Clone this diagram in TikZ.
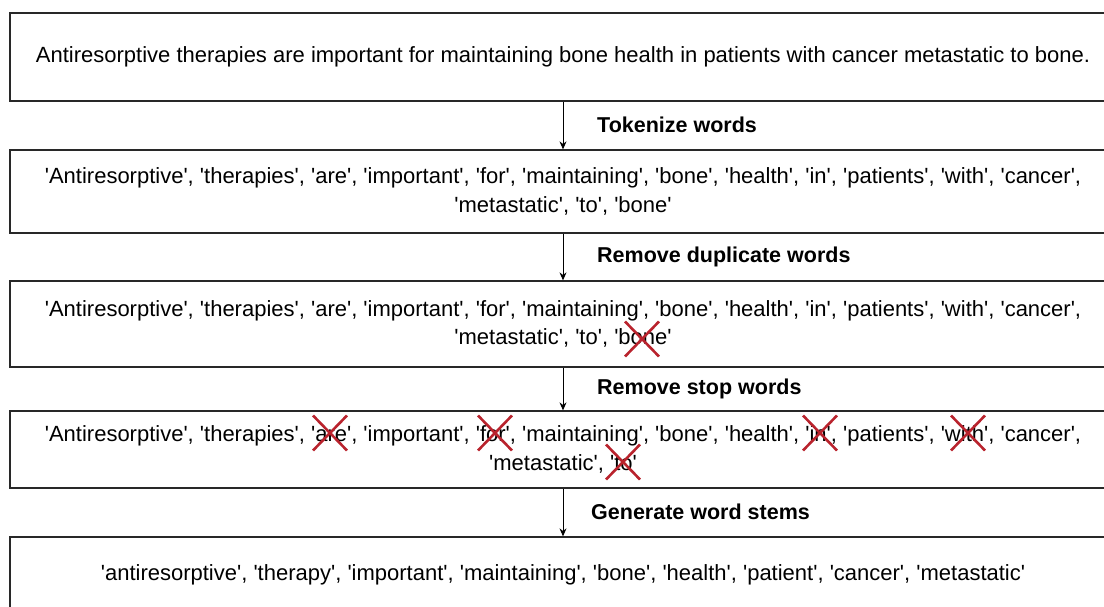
\documentclass[tikz,border=0pt]{standalone}
\usepackage{fontspec}
\setmainfont{Liberation Sans}
\usetikzlibrary{arrows.meta}
\definecolor{crossred}{RGB}{185,35,45}
\definecolor{boxline}{RGB}{40,40,40}
\newcommand\sq{\textquotesingle}
\newcommand\w[1]{\sq#1\sq}
\tikzset{
  stepbox/.style={draw=boxline, line width=1.3pt, minimum width=1106pt, inner sep=0pt, align=center, font=\fontsize{22}{28.5}\selectfont},
  lbl/.style={anchor=west, inner sep=0pt, font=\fontsize{21.5}{26}\selectfont\bfseries},
  arr/.style={draw=black, line width=0.9pt, -{Stealth[length=8pt,width=7pt]}},
  redx/.pic={\draw[crossred, line width=2.6pt] (-17,-17.5) -- (17,17.5) (-17,17.5) -- (17,-17.5);}
}
\begin{document}
\begin{tikzpicture}[x=1pt,y=-1pt]
\useasboundingbox (0,0) rectangle (1104,607);
\clip (0,0) rectangle (1104,607);
\fill[white] (0,0) rectangle (1104,607);
\node[stepbox, minimum height=88pt] (b1) at (563,57) {Antiresorptive therapies are important for maintaining bone health in patients with cancer metastatic to bone.};
\node[stepbox, minimum height=83pt] (b2) at (563,191.5) {\w{Antiresorptive}, \w{therapies}, \w{are}, \w{important}, \w{for}, \w{maintaining}, \w{bone}, \w{health}, \w{in}, \w{patients}, \w{with}, \w{cancer},\\\w{metastatic}, \w{to}, \w{bone}};
\node[stepbox, minimum height=86pt] (b3) at (563,324) {\w{Antiresorptive}, \w{therapies}, \w{are}, \w{important}, \w{for}, \w{maintaining}, \w{bone}, \w{health}, \w{in}, \w{patients}, \w{with}, \w{cancer},\\\w{metastatic}, \w{to}, \w{bone}};
\node[stepbox, minimum height=77pt] (b4) at (563,449.5) {\w{Antiresorptive}, \w{therapies}, \w{are}, \w{important}, \w{for}, \w{maintaining}, \w{bone}, \w{health}, \w{in}, \w{patients}, \w{with}, \w{cancer},\\\w{metastatic}, \w{to}};
\node[stepbox, minimum height=76pt] (b5) at (563,575) {\w{antiresorptive}, \w{therapy}, \w{important}, \w{maintaining}, \w{bone}, \w{health}, \w{patient}, \w{cancer}, \w{metastatic}};
\draw[arr] (b1.south) -- (b2.north);
\draw[arr] (b2.south) -- (b3.north);
\draw[arr] (b3.south) -- (b4.north);
\draw[arr] (b4.south) -- (b5.north);
\node[lbl] (l1) at (597,125) {Tokenize words};
\node[lbl] (l2) at (597,257) {Remove duplicate words};
\node[lbl] (l3) at (597,389) {Remove stop words};
\node[lbl] (l4) at (591,512) {Generate word stems};
\pic at (642,339) {redx};
\pic at (330,433) {redx};
\pic at (495,433) {redx};
\pic at (623,462) {redx};
\pic at (820,433) {redx};
\pic at (968,433) {redx};
\end{tikzpicture}
\end{document}
